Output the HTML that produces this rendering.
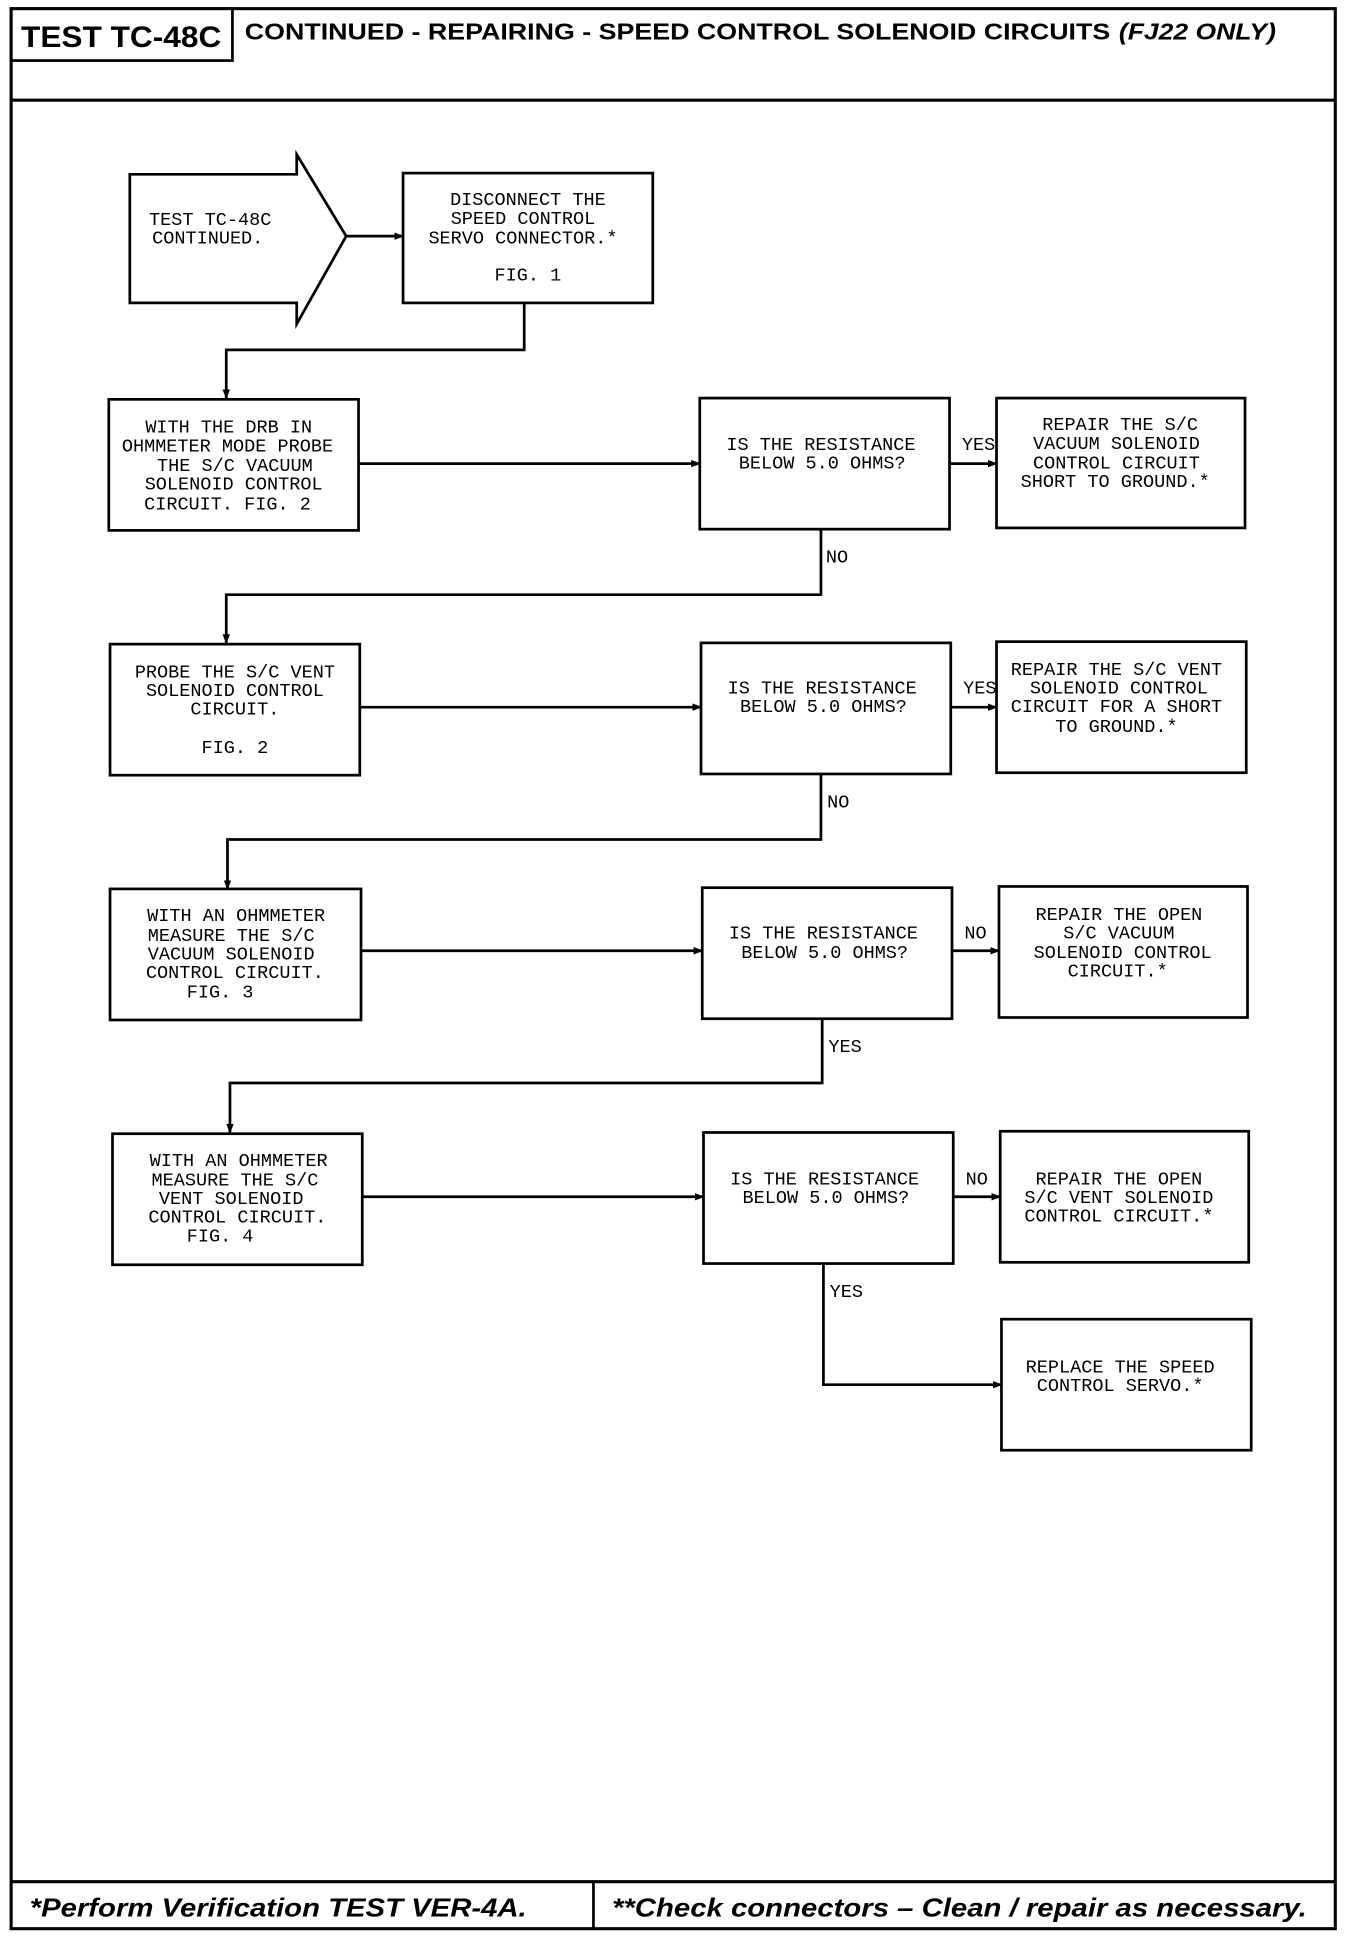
<!DOCTYPE html>
<html><head><meta charset="utf-8"><style>
html,body{margin:0;padding:0;background:#fff}
svg{display:block}
.t{font-family:"Liberation Mono",monospace;font-size:15px;fill:#000;text-anchor:middle}
.l{font-family:"Liberation Mono",monospace;font-size:15px;fill:#000}
</style></head><body>
<svg width="1360" height="1946" viewBox="0 0 1100 1574" preserveAspectRatio="none" xmlns="http://www.w3.org/2000/svg">
<defs><marker id="a" markerWidth="8" markerHeight="8" refX="7" refY="4" orient="auto" markerUnits="userSpaceOnUse"><path d="M0,1 L8,4 L0,7 z" fill="#000"/></marker></defs>
<g fill="none" stroke="#000" stroke-width="2.2">
<rect x="9" y="7" width="1071" height="1553" stroke-width="2.5"/>
<line x1="9" y1="81" x2="1080" y2="81" stroke-width="2.5"/>
<rect x="9" y="7" width="179" height="42"/>
<line x1="9" y1="1522" x2="1080" y2="1522" stroke-width="2.5"/>
<line x1="480" y1="1522" x2="480" y2="1560"/>
<path d="M105,141 H240 V125 L280,191 L240,262 V245 H105 Z"/>
<rect x="326" y="140" width="202" height="105"/>
<path d="M280,191 H326" marker-end="url(#a)"/>
<path d="M424,245 V283 H183 V322" marker-end="url(#a)"/>
<rect x="88" y="323" width="202" height="106"/>
<rect x="566" y="322" width="202" height="106"/>
<rect x="806" y="322" width="201" height="105"/>
<path d="M290,375 H566" marker-end="url(#a)"/>
<path d="M768,375 H806" marker-end="url(#a)"/>
<path d="M664,428 V481 H183 V520" marker-end="url(#a)"/>
<rect x="89" y="521" width="202" height="106"/>
<rect x="567" y="520" width="202" height="106"/>
<rect x="806" y="519" width="202" height="106"/>
<path d="M291,572 H567" marker-end="url(#a)"/>
<path d="M769,572 H806" marker-end="url(#a)"/>
<path d="M664,626 V679 H184 V719" marker-end="url(#a)"/>
<rect x="89" y="719" width="203" height="106"/>
<rect x="568" y="718" width="202" height="106"/>
<rect x="808" y="717" width="201" height="106"/>
<path d="M292,769 H568" marker-end="url(#a)"/>
<path d="M770,769 H808" marker-end="url(#a)"/>
<path d="M665,824 V876 H186 V916" marker-end="url(#a)"/>
<rect x="91" y="917" width="202" height="106"/>
<rect x="569" y="916" width="202" height="106"/>
<rect x="809" y="915" width="201" height="106"/>
<path d="M293,968 H569" marker-end="url(#a)"/>
<path d="M771,968 H809" marker-end="url(#a)"/>
<path d="M666,1022 V1120 H810" marker-end="url(#a)"/>
<rect x="810" y="1067" width="202" height="106"/>
</g>
<text x="98" y="38" font-family="Liberation Sans,sans-serif" font-weight="bold" font-size="24" text-anchor="middle" textLength="162" lengthAdjust="spacingAndGlyphs">TEST TC-48C</text>
<text x="198" y="32" font-family="Liberation Sans,sans-serif" font-weight="bold" font-size="19" textLength="700" lengthAdjust="spacingAndGlyphs">CONTINUED -  REPAIRING - SPEED CONTROL SOLENOID CIRCUITS</text>
<text x="905" y="32" font-family="Liberation Sans,sans-serif" font-weight="bold" font-style="italic" font-size="19" textLength="127" lengthAdjust="spacingAndGlyphs">(FJ22 ONLY)</text>
<text x="24" y="1550" font-family="Liberation Sans,sans-serif" font-weight="bold" font-style="italic" font-size="21" textLength="402" lengthAdjust="spacingAndGlyphs">*Perform Verification TEST VER-4A.</text>
<text x="495" y="1550" font-family="Liberation Sans,sans-serif" font-weight="bold" font-style="italic" font-size="21" textLength="562" lengthAdjust="spacingAndGlyphs">**Check connectors – Clean / repair as necessary.</text>
<g class="t">
<text x="170" y="182">TEST TC-48C</text><text x="168" y="197">CONTINUED.</text>
<text x="427" y="166">DISCONNECT THE</text><text x="423" y="181">SPEED CONTROL</text><text x="423" y="197">SERVO CONNECTOR.*</text><text x="427" y="227">FIG. 1</text>
<text x="185" y="350">WITH THE DRB IN</text><text x="184" y="365">OHMMETER MODE PROBE</text><text x="190" y="381">THE S/C VACUUM</text><text x="189" y="396">SOLENOID CONTROL</text><text x="184" y="412">CIRCUIT. FIG. 2</text>
<text x="190" y="548">PROBE THE S/C VENT</text><text x="190" y="563">SOLENOID CONTROL</text><text x="190" y="578">CIRCUIT.</text><text x="190" y="609">FIG. 2</text>
<text x="191" y="745">WITH AN OHMMETER</text><text x="187" y="761">MEASURE THE S/C</text><text x="187" y="776">VACUUM SOLENOID</text><text x="190" y="791">CONTROL CIRCUIT.</text><text x="178" y="807">FIG. 3</text>
<text x="193" y="943">WITH AN OHMMETER</text><text x="190" y="959">MEASURE THE S/C</text><text x="187" y="974">VENT SOLENOID</text><text x="192" y="989">CONTROL CIRCUIT.</text><text x="178" y="1004">FIG. 4</text>
<text x="664" y="364">IS THE RESISTANCE</text><text x="665" y="379">BELOW 5.0 OHMS?</text>
<text x="665" y="561">IS THE RESISTANCE</text><text x="666" y="576">BELOW 5.0 OHMS?</text>
<text x="666" y="759">IS THE RESISTANCE</text><text x="667" y="775">BELOW 5.0 OHMS?</text>
<text x="667" y="958">IS THE RESISTANCE</text><text x="668" y="973">BELOW 5.0 OHMS?</text>
<text x="906" y="348">REPAIR THE S/C</text><text x="903" y="363">VACUUM SOLENOID</text><text x="903" y="379">CONTROL CIRCUIT</text><text x="902" y="394">SHORT TO GROUND.*</text>
<text x="903" y="546">REPAIR THE S/C VENT</text><text x="905" y="561">SOLENOID CONTROL</text><text x="903" y="576">CIRCUIT FOR A SHORT</text><text x="903" y="592">TO GROUND.*</text>
<text x="905" y="744">REPAIR THE OPEN</text><text x="905" y="759">S/C VACUUM</text><text x="908" y="775">SOLENOID CONTROL</text><text x="904" y="790">CIRCUIT.*</text>
<text x="905" y="958">REPAIR THE OPEN</text><text x="905" y="973">S/C VENT SOLENOID</text><text x="905" y="988">CONTROL CIRCUIT.*</text>
<text x="906" y="1110">REPLACE THE SPEED</text><text x="906" y="1125">CONTROL SERVO.*</text>
</g>
<g class="l">
<text x="778" y="364">YES</text><text x="668" y="455">NO</text>
<text x="779" y="561">YES</text><text x="669" y="653">NO</text>
<text x="780" y="759">NO</text><text x="670" y="851">YES</text>
<text x="781" y="958">NO</text><text x="671" y="1049">YES</text>
</g>
</svg>
</body></html>
